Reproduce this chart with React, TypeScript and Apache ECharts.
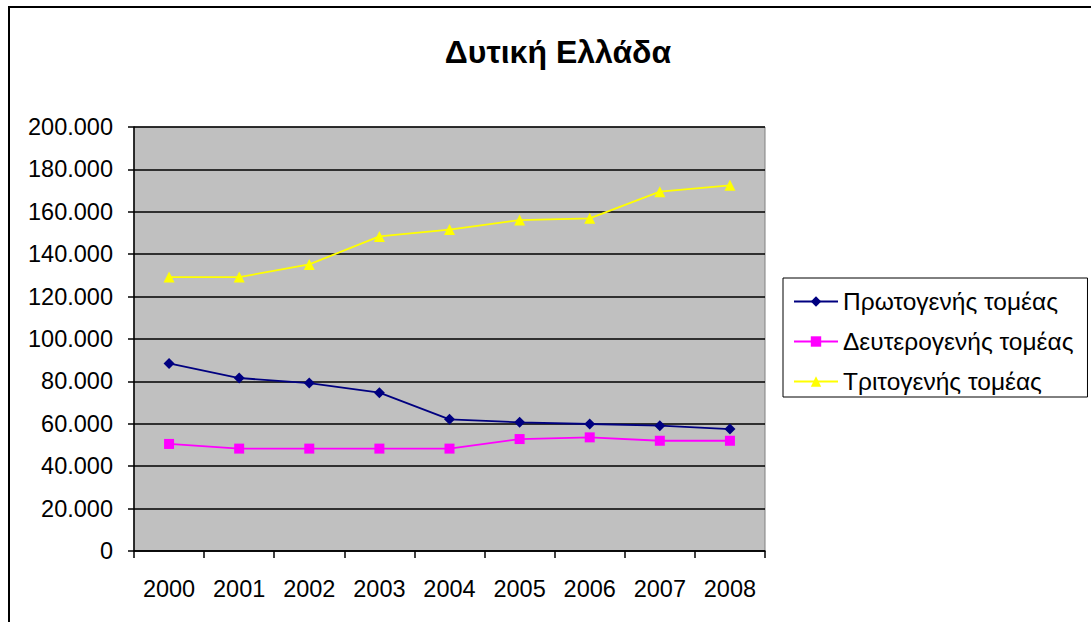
import React, { useEffect, useRef } from "react";
import * as echarts from "echarts";

const years = ["2000", "2001", "2002", "2003", "2004", "2005", "2006", "2007", "2008"];
const primary = [88500, 81600, 79200, 74700, 62100, 60700, 59900, 59100, 57500];
const secondary = [50500, 48300, 48300, 48300, 48300, 52800, 53600, 52000, 52000];
const tertiary = [129200, 129200, 135200, 148400, 151600, 156100, 156900, 169500, 172500];
const seriesNames = ["Πρωτογενής τομέας", "Δευτερογενής τομέας", "Τριτογενής τομέας"];
const titleText = "Δυτική Ελλάδα";

const FONT = "Liberation Sans, Arial, sans-serif";

function fmt(v: number): string {
  return String(v).replace(/\B(?=(\d{3})+(?!\d))/g, ".");
}

export default function App() {
  const ref = useRef<HTMLDivElement>(null);
  useEffect(() => {
    if (!ref.current) return;
    const chart = echarts.init(ref.current, undefined, { renderer: "svg" });
    chart.setOption({
      animation: false,
      backgroundColor: "#ffffff",
      textStyle: { fontFamily: FONT },
      title: {
        text: titleText,
        left: 553,
        textAlign: "center",
        top: 31,
        textStyle: { fontFamily: FONT, fontSize: 32, fontWeight: "bold", color: "#000" },
      },
      graphic: [
        {
          type: "rect",
          shape: { x: 9, y: 7, width: 1300, height: 800 },
          style: { fill: "none", stroke: "#000", lineWidth: 2 },
          silent: true,
          z: 100,
        },
      ],
      legend: {
        orient: "vertical",
        left: 783,
        top: 278,
        borderColor: "#000",
        borderWidth: 1,
        padding: [11, 14, 3, 10],
        itemWidth: 44,
        itemHeight: 13,
        itemGap: 15,
        itemTextGap: 10,
        textStyle: { fontFamily: FONT, fontSize: 24.5, color: "#000" },
        data: seriesNames,
      },
      grid: {
        left: 134,
        top: 127,
        width: 631,
        height: 424,
        show: true,
        backgroundColor: "#c0c0c0",
        borderColor: "#808080",
        borderWidth: 1,
      },
      xAxis: {
        type: "category",
        data: years,
        boundaryGap: true,
        axisLine: { lineStyle: { color: "#000", width: 1.5 } },
        axisTick: { show: true, alignWithLabel: false, length: 7, lineStyle: { color: "#000", width: 1.5 } },
        axisLabel: { fontFamily: FONT, fontSize: 23.5, color: "#000", margin: 26, interval: 0 },
        splitLine: { show: false },
      },
      yAxis: {
        type: "value",
        min: 0,
        max: 200000,
        interval: 20000,
        axisLine: { show: true, lineStyle: { color: "#000", width: 1.5 } },
        axisTick: { show: true, length: 6, lineStyle: { color: "#000", width: 1.5 } },
        axisLabel: { fontFamily: FONT, fontSize: 23.5, color: "#000", margin: 21, formatter: (v: number) => fmt(v) },
        splitLine: { show: true, lineStyle: { color: "#000", width: 1.5 } },
      },
      series: [
        {
          name: seriesNames[0],
          type: "line",
          data: primary,
          symbol: "diamond",
          symbolSize: 11,
          itemStyle: { color: "#000080" },
          lineStyle: { color: "#000080", width: 1.8 },
        },
        {
          name: seriesNames[1],
          type: "line",
          data: secondary,
          symbol: "rect",
          symbolSize: 10,
          itemStyle: { color: "#ff00ff" },
          lineStyle: { color: "#ff00ff", width: 1.8 },
        },
        {
          name: seriesNames[2],
          type: "line",
          data: tertiary,
          symbol: "triangle",
          symbolSize: 11,
          itemStyle: { color: "#ffff00" },
          lineStyle: { color: "#ffff00", width: 1.8 },
        },
      ],
    });
    return () => chart.dispose();
  }, []);
  return (
    <div
      ref={ref}
      style={{ position: "fixed", left: 0, top: 0, width: 1091, height: 622 }}
    />
  );
}
